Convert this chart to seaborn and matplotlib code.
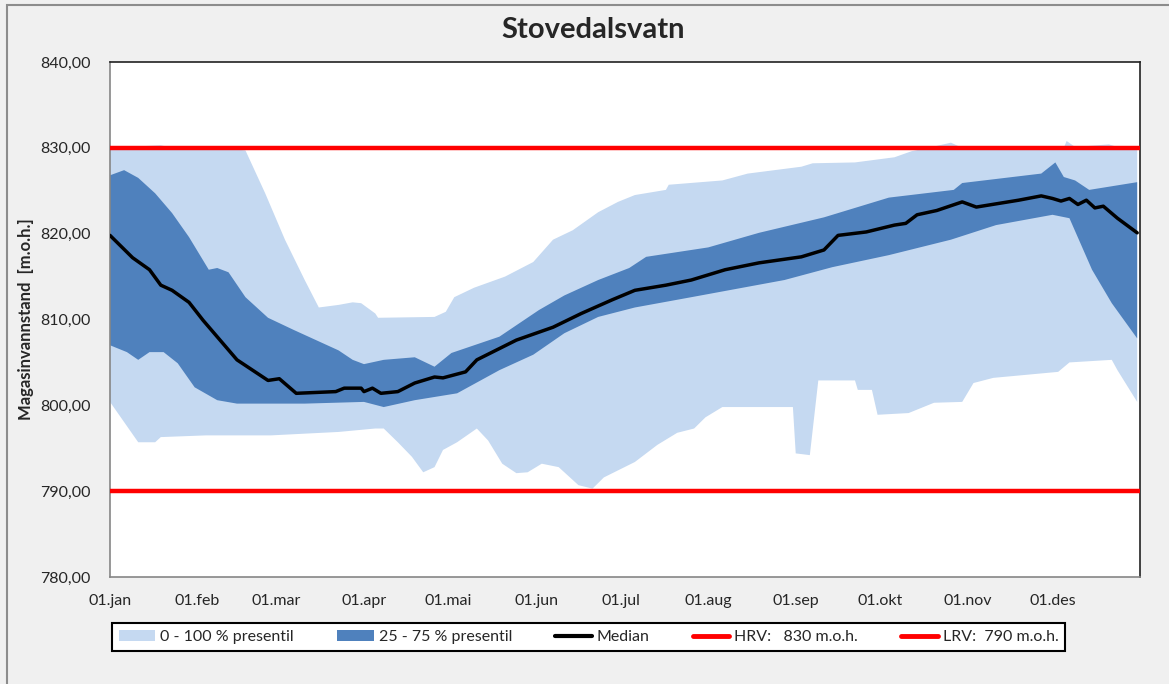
import numpy as np
import pandas as pd
import matplotlib.pyplot as plt
import seaborn as sns
from matplotlib.patches import Patch, Rectangle
from matplotlib.lines import Line2D
from matplotlib.ticker import FuncFormatter

# dag i året (0 = 01.jan) og vannstand i m.o.h.
dag_p100 = [0, 18, 22, 35, 38, 48, 55, 62, 69, 74, 81, 86, 89, 94, 95, 115, 119, 122, 129, 140,
            150, 157, 164, 173, 180, 186, 197, 198, 217, 226, 245, 249, 264, 278, 284, 290, 298,
            302, 338, 339, 342, 354, 358, 364]
p100 = [830.0, 830.3, 830.0, 830.2, 830.0, 829.7, 824.7, 819.3, 814.6, 811.4, 811.7, 812.0, 811.9,
        810.7, 810.2, 810.3, 810.9, 812.6, 813.7, 815.0, 816.7, 819.3, 820.4, 822.5, 823.7, 824.5,
        825.1, 825.7, 826.2, 827.0, 827.8, 828.2, 828.3, 828.9, 829.6, 830.0, 830.6, 830.0, 830.0,
        830.8, 830.1, 830.4, 830.0, 830.0]

dag_p75 = [0, 5, 10, 16, 22, 28, 35, 38, 42, 48, 56, 65, 73, 81, 86, 90, 97, 108, 115, 121, 138,
           152, 161, 173, 184, 190, 212, 230, 253, 276, 299, 302, 330, 335, 338, 342, 347, 364]
p75 = [826.8, 827.4, 826.5, 824.7, 822.4, 819.6, 815.8, 816.0, 815.5, 812.6, 810.2, 808.8, 807.6,
       806.4, 805.3, 804.8, 805.3, 805.6, 804.5, 806.1, 808.0, 811.1, 812.8, 814.6, 816.0, 817.3,
       818.4, 820.1, 821.9, 824.2, 825.1, 825.9, 827.0, 828.3, 826.6, 826.2, 825.1, 826.0]

dag_median = [0, 8, 14, 18, 22, 28, 33, 45, 56, 60, 66, 80, 83, 89, 90, 93, 96, 102, 108, 115, 118,
              126, 130, 144, 157, 167, 178, 186, 197, 206, 218, 230, 245, 253, 258, 268, 278, 282,
              286, 293, 302, 307, 322, 330, 334, 337, 340, 343, 346, 349, 352, 357, 364]
median = [819.8, 817.2, 815.8, 814.0, 813.4, 812.0, 809.9, 805.3, 802.9, 803.1, 801.4, 801.6, 802.0,
          802.0, 801.6, 802.0, 801.4, 801.6, 802.6, 803.3, 803.2, 803.9, 805.3, 807.6, 809.1, 810.7,
          812.3, 813.4, 814.0, 814.6, 815.8, 816.6, 817.3, 818.1, 819.8, 820.2, 821.0, 821.2, 822.2,
          822.7, 823.7, 823.1, 823.9, 824.4, 824.1, 823.8, 824.1, 823.4, 823.9, 823.0, 823.2, 821.8,
          820.1]

dag_p25 = [0, 6, 10, 14, 19, 24, 30, 38, 45, 69, 90, 97, 108, 123, 138, 150, 161, 173, 186, 206,
           239, 256, 276, 298, 314, 334, 340, 348, 355, 364]
p25 = [807.0, 806.2, 805.3, 806.2, 806.2, 804.9, 802.1, 800.6, 800.2, 800.2, 800.4, 799.8, 800.6,
       801.4, 804.1, 805.9, 808.4, 810.3, 811.4, 812.6, 814.6, 816.1, 817.5, 819.3, 821.0, 822.2,
       821.8, 815.8, 811.9, 807.8]

dag_p0 = [0, 10, 16, 18, 34, 57, 81, 94, 97, 102, 107, 111, 115, 118, 123, 130, 134, 139, 144, 148,
          153, 159, 166, 171, 175, 186, 194, 201, 207, 211, 217, 242, 243, 248, 251, 264, 265, 270,
          272, 283, 292, 302, 306, 313, 336, 340, 355, 357, 364]
p0 = [800.4, 795.7, 795.7, 796.3, 796.5, 796.5, 796.9, 797.3, 797.3, 795.7, 794.0, 792.2, 792.8,
      794.8, 795.7, 797.3, 795.9, 793.2, 792.1, 792.2, 793.2, 792.8, 790.7, 790.3, 791.6, 793.4,
      795.4, 796.8, 797.3, 798.6, 799.8, 799.8, 794.4, 794.2, 802.9, 802.9, 801.8, 801.8, 798.9,
      799.1, 800.3, 800.4, 802.6, 803.2, 803.9, 805.0, 805.3, 804.1, 800.4]

HRV = 830
LRV = 790

maaned_start = [0, 31, 59, 90, 120, 151, 181, 212, 243, 273, 304, 334]
maaneder = ["01.jan", "01.feb", "01.mar", "01.apr", "01.mai", "01.jun",
            "01.jul", "01.aug", "01.sep", "01.okt", "01.nov", "01.des"]

LYS = "#c5d9f1"
MORK = "#4f81bd"

sns.set_theme(style="white")
plt.rcParams['font.family'] = ['Lato', 'DejaVu Sans']

fig, ax = plt.subplots(figsize=(11.69, 6.84), dpi=100)
fig.patch.set_facecolor("#f0f0f0")
fig.subplots_adjust(left=110 / 1169, right=1140 / 1169, top=1 - 62 / 684, bottom=1 - 577 / 684)

# presentilbånd som polygoner: øvre kant fram, nedre kant tilbake
ax.fill(np.r_[dag_p100, dag_p0[::-1]], np.r_[p100, p0[::-1]], color=LYS, lw=0, zorder=1)
ax.fill(np.r_[dag_p75, dag_p25[::-1]], np.r_[p75, p25[::-1]], color=MORK, lw=0, zorder=2)

ax.axhline(HRV, color="red", lw=3.2, zorder=3)
ax.axhline(LRV, color="red", lw=3.2, zorder=3)

median_df = pd.DataFrame({"dag": dag_median, "niva": median})
sns.lineplot(data=median_df, x="dag", y="niva", color="black", lw=2.5, ax=ax, zorder=4)

ax.set_xlim(0, 365)
ax.set_ylim(780, 840)
ax.set_yticks(range(780, 841, 10))
ax.yaxis.set_major_formatter(FuncFormatter(lambda v, p: f"{v:.2f}".replace(".", ",")))
ax.set_xticks(maaned_start)
ax.set_xticklabels(maaneder)
ax.tick_params(direction="out", length=5, width=1, color="#868686", labelsize=11.5)
ax.tick_params(axis="y", pad=9)
ax.tick_params(axis="x", pad=7)
ax.set_xlabel("")
ax.set_ylabel("Magasinvannstand  [m.o.h.]", fontsize=12, fontweight="bold")
ax.yaxis.set_label_coords(-0.074, 0.5)

for side in ["left", "bottom"]:
    ax.spines[side].set_color("#868686")
for side in ["top", "right"]:
    ax.spines[side].set_color("#222222")
for sp in ax.spines.values():
    sp.set_linewidth(1.2)
    sp.set_visible(True)

fig.text(593 / 1169, 1 - 30 / 684, "Stovedalsvatn", ha="center", va="center",
         fontsize=21, fontweight="bold")

handles = [
    Patch(facecolor=LYS, edgecolor="none"),
    Patch(facecolor=MORK, edgecolor="none"),
    Line2D([], [], color="black", lw=3),
    Line2D([], [], color="red", lw=3.5),
    Line2D([], [], color="red", lw=3.5),
]
labels = ["0 - 100 % presentil", "25 - 75 % presentil", "Median",
          "HRV:   830 m.o.h.", "LRV:  790 m.o.h."]
leg = fig.legend(handles, labels, loc="center", bbox_to_anchor=(588.5 / 1169, 1 - 637 / 684),
                 ncol=5, frameon=True, fancybox=False, edgecolor="black", facecolor="white",
                 framealpha=1, fontsize=11.5, handlelength=2.3, handletextpad=0.3,
                 columnspacing=2.7, borderpad=0.45)
leg.get_frame().set_linewidth(1.5)

fig.patches.append(Rectangle((7 / 1169, -0.1), 1.2, 0.1 + 1 - 5 / 684, transform=fig.transFigure,
                             fill=False, edgecolor="#8c8c8c", lw=1.5))

fig.savefig("out.png", dpi=100, facecolor=fig.get_facecolor())
